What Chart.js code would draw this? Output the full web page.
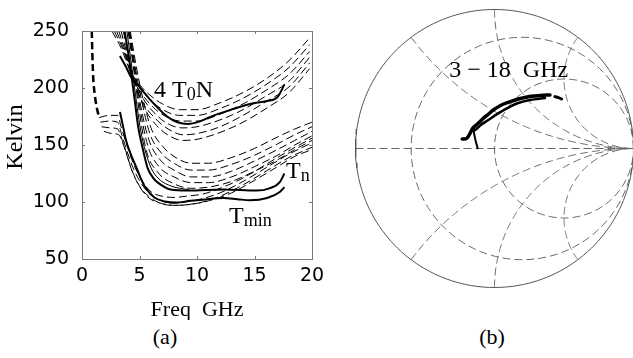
<!DOCTYPE html>
<html>
<head>
<meta charset="utf-8">
<script src="https://cdn.jsdelivr.net/npm/chart.js@4/dist/chart.umd.min.js"></script>
<style>
  html, body { margin: 0; padding: 0; background: #fff; overflow: hidden; }
  #wrap { position: relative; width: 633px; height: 358px; }
  #noiseCanvas { position: absolute; left: 0; top: 0; }
  #smithCanvas { position: absolute; left: 340px; top: 0; }
  .caption {
    position: absolute;
    font-family: "Liberation Serif", "Times New Roman", serif;
    font-size: 22px;
    line-height: 25px;
    color: #000;
    transform: translateX(-50%);
  }
</style>
</head>
<body>
<div id="wrap">
  <canvas id="noiseCanvas" width="330" height="320"></canvas>
  <canvas id="smithCanvas" width="300" height="300"></canvas>
  <div class="caption" style="left:165px; top:324px;">(a)</div>
  <div class="caption" style="left:492px; top:324px;">(b)</div>
</div>
<script>
//Datos de la figura (a): temperaturas de ruido [GHz, K]

const freqTicks = [0, 5, 10, 15, 20];
const kelvinTicks = [50, 100, 150, 200, 250];

const curve4T0N = [[3.3,228],[3.8,219],[4.3,209],[5.0,201],[5.9,190],[7.4,175],[8.3,170],[9.2,168.5],[10.2,170.5],[11.1,174.5],[12.9,180.7],[14.6,186],[16.1,188.6],[17,192],[17.6,203]];
const curveTn = [[3.7,250],[4.0,232],[4.3,211],[4.6,188],[4.9,165],[5.3,146],[5.7,130],[6.2,121],[6.6,117],[7.7,111],[9.2,110],[12.3,111],[15.2,110],[16.3,112],[17.2,117.5],[17.6,125]];
const curveTnThin = [[3.9,250],[4.2,228],[4.5,206],[4.8,183],[5.1,163],[5.5,145],[6.0,130],[6.6,121],[7.5,115],[8.5,112],[9.3,111]];
const curveTmin = [[3.3,179],[3.6,165],[3.8,155],[4.2,143],[4.7,131],[5.1,121],[5.5,113],[6.3,104],[7.2,100.5],[8.2,99.5],[9.4,101],[10.5,102],[12.3,103.5],[13.5,102.5],[14.6,101.5],[16.1,103.5],[17.2,108.8],[17.6,113]];

const curveLowFreq = [[0.85,250],[0.9,230],[0.97,210],[1.1,195],[1.3,182],[1.5,174]];

const upperDashed = [
  [[2.6,250],[3.4,235],[4.2,215],[5,203],[6,193],[7,186],[8.5,181],[10,181],[12,187],[14,196],[16,208],[18,224],[19.8,244]],
  [[2.8,250],[3.6,233],[4.3,212],[5.1,199],[6.1,188],[7.2,180],[8.5,176],[10,176],[12,182],[14,191],[16,203],[18,218],[19.8,238]],
  [[3.0,250],[3.7,232],[4.3,211],[5.2,195],[6.2,183],[7.3,175],[8.6,171],[10,171],[12,177],[14,186],[16,198],[18,212],[19.8,232]],
  [[3.2,250],[3.8,231],[4.4,210],[5.3,191],[6.3,178],[7.4,169],[8.7,165],[10,166],[12,172],[14,181],[16,193],[18,206],[19.8,227]],
  [[3.4,250],[3.9,230],[4.4,209],[5.3,187],[6.4,173],[7.5,164],[8.8,159],[10,160],[12,166],[14,176],[16,188],[18,201],[19.8,222]],
  [[3.6,250],[4.0,229],[4.5,208],[5.4,183],[6.5,167],[7.6,158],[8.8,154],[10,155],[12,161],[14,170],[16,182],[18,196],[19.8,217]]
];

const lowerDashed = [
  [[4.2,250],[4.7,220],[5.2,195],[6,165],[7,149],[8,140],[9.5,134],[11,134],[13,139],[15,147],[17,157],[18.5,164],[20,170]],
  [[4.15,250],[4.6,220],[5.1,193],[5.9,160],[6.9,143],[8,134],[9.5,128],[11,128],[13,133],[15,141],[17,151],[18.5,159],[20,166]],
  [[4.1,250],[4.55,220],[5.0,190],[5.8,155],[6.8,137],[8,128],[9.5,122],[11,122],[13,127],[15,136],[17,146],[18.5,154],[20,162]],
  [[4.05,250],[4.5,220],[4.95,188],[5.7,150],[6.7,131],[8,122],[9.5,117],[11,117],[13,122],[15,131],[17,141],[18.5,150],[20,158]],
  [[4.0,250],[4.45,220],[4.9,185],[5.6,145],[6.6,126],[8,116],[9.5,112],[11,113],[13,118],[15,127],[17,137],[18.5,146],[20,154]],
  [[1.5,174],[2.3,176],[3.1,176],[3.4,166],[3.9,150],[4.5,133],[5.2,119],[6,109],[7,105],[8,104],[9,105],[10.5,107],[12,112],[14,121],[16,133],[18,145],[20,156]],
  [[1.6,170],[2.4,171],[3.1,170],[3.4,161],[3.8,148],[4.4,131],[5.1,117],[5.9,107],[6.9,101],[8,99],[9,100],[10.5,103],[12,108],[14,118],[16,130],[18,142],[20,152]],
  [[1.7,166],[2.5,165],[3.1,164],[3.4,157],[3.8,145],[4.3,129],[5.0,114],[5.8,105],[6.8,99],[8,97],[9,97.5],[10.5,100],[12,105],[14,115],[16,127],[18,139],[20,148]],
  [[1.9,162],[2.6,160],[3.2,159],[3.5,153],[3.9,141],[4.4,126],[5.1,112],[5.9,103],[7,98.5],[8.2,97],[9.5,98],[11,101],[13,108],[15,119],[17,131],[18.5,140],[20,146]]
];

//Datos de la figura (b): coeficiente de reflexion [Re, Im]

const gammaMain = [[-0.232,0.068],[-0.200,0.073],[-0.176,0.109],[-0.153,0.150],[-0.117,0.181],[-0.081,0.217],[-0.045,0.246],[-0.009,0.277],[0.040,0.308],[0.099,0.332],[0.171,0.356],[0.243,0.373],[0.315,0.380],[0.376,0.385],[0.399,0.385]];
const gammaTail = [[0.435,0.373],[0.460,0.366],[0.483,0.356]];
const gammaSecond = [[-0.153,0.145],[-0.140,0.133],[-0.092,0.174],[-0.045,0.205],[0.027,0.253],[0.099,0.294],[0.171,0.327],[0.255,0.349],[0.363,0.363]];
const gammaBranch = [[-0.153,0.145],[-0.140,0.073],[-0.121,0.001]];

const smithResistances = [0.25, 1];
const smithReactances = [0.5, 1, 2, -0.5, -1, -2];

const SERIF = '"Liberation Serif", "Times New Roman", serif';
const SANS = '"DejaVu Sans", sans-serif';

function toPoints(pairs) {
  return pairs.map((p) => ({ x: p[0], y: p[1] }));
}

function drawWithSub(ctx, x, y, parts) {
  // parts: [texto, tamaño, desplazamiento vertical]
  let cx = x;
  parts.forEach(([text, size, dy]) => {
    ctx.font = `${size}px ${SERIF}`;
    ctx.fillText(text, cx, y + dy);
    cx += ctx.measureText(text).width;
  });
}

const noiseDecor = {
  id: "noiseDecor",
  afterDatasetsDraw(chart) {
    const { ctx, chartArea: a, scales } = chart;
    ctx.save();
    ctx.strokeStyle = "#7a7a7a";
    ctx.lineWidth = 1;
    ctx.setLineDash([]);
    ctx.strokeRect(a.left + 0.5, a.top + 0.5, a.right - a.left, a.bottom - a.top);
    ctx.beginPath();
    freqTicks.forEach((v) => {
      const px = Math.round(scales.x.getPixelForValue(v)) + 0.5;
      ctx.moveTo(px, a.bottom);
      ctx.lineTo(px, a.bottom - 3);
      ctx.moveTo(px, a.top);
      ctx.lineTo(px, a.top + 3);
    });
    kelvinTicks.forEach((v) => {
      const py = Math.round(scales.y.getPixelForValue(v)) + 0.5;
      ctx.moveTo(a.left, py);
      ctx.lineTo(a.left + 3, py);
      ctx.moveTo(a.right, py);
      ctx.lineTo(a.right - 3, py);
    });
    ctx.stroke();

    ctx.fillStyle = "#000";
    ctx.textBaseline = "alphabetic";
    ctx.textAlign = "left";
    const X = (v) => scales.x.getPixelForValue(v);
    const Y = (v) => scales.y.getPixelForValue(v);
    drawWithSub(ctx, X(6.26), Y(192), [["4 T", 24, 0], ["0", 18, 3], ["N", 24, 0]]);
    drawWithSub(ctx, X(17.74), Y(121), [["T", 24, 0], ["n", 18, 3]]);
    drawWithSub(ctx, X(12.78), Y(81.6), [["T", 24, 0], ["min", 18, 3]]);

    // titulo del eje y
    ctx.save();
    ctx.translate(a.left - 66, (a.top + a.bottom) / 2 - 8);
    ctx.rotate(-Math.PI / 2);
    ctx.font = `24px ${SERIF}`;
    ctx.textAlign = "center";
    ctx.textBaseline = "middle";
    ctx.fillText("Kelvin", 0, 0);
    ctx.restore();
    ctx.restore();
  },
};

function lineSet(pairs, width, dash, order) {
  return {
    data: toPoints(pairs),
    showLine: true,
    borderColor: "#000",
    borderWidth: width,
    borderDash: dash,
    pointRadius: 0,
    cubicInterpolationMode: "monotone",
    order: order,
  };
}

const noiseDatasets = [];
noiseDatasets.push(lineSet(curve4T0N, 2, [], 0));
noiseDatasets.push(lineSet(curveTn, 2, [], 0));
noiseDatasets.push(lineSet(curveTnThin, 1, [], 0));
noiseDatasets.push(lineSet(curveTmin, 2, [], 0));
noiseDatasets.push(lineSet(curveLowFreq, 2.5, [7, 4], 1));
upperDashed.forEach((c) => noiseDatasets.push(lineSet(c, 1, [8, 4], 2)));
lowerDashed.forEach((c) => noiseDatasets.push(lineSet(c, 1, [8, 4], 2)));

new Chart(document.getElementById("noiseCanvas"), {
  type: "scatter",
  data: { datasets: noiseDatasets },
  options: {
    responsive: false,
    animation: false,
    events: [],
    layout: { padding: { top: 31, right: 18, left: 0, bottom: 0 } },
    plugins: { legend: { display: false }, tooltip: { enabled: false } },
    scales: {
      x: {
        type: "linear",
        min: 0,
        max: 20,
        afterBuildTicks: (s) => { s.ticks = freqTicks.map((v) => ({ value: v })); },
        afterFit: (s) => { s.height = 61; },
        grid: { display: false },
        border: { display: false },
        ticks: { color: "#000", font: { family: SANS, size: 19 }, padding: -2, maxRotation: 0 },
        title: { display: true, text: "Freq  GHz", color: "#000", font: { family: SERIF, size: 22 }, padding: { top: 0, bottom: -3 } },
      },
      y: {
        type: "linear",
        min: 50,
        max: 250,
        afterBuildTicks: (s) => { s.ticks = kelvinTicks.map((v) => ({ value: v })); },
        afterFit: (s) => { s.width = 82; },
        grid: { display: false },
        border: { display: false },
        ticks: { color: "#000", font: { family: SANS, size: 19 }, padding: 5 },
      },
    },
  },
  plugins: [noiseDecor],
});

//Carta de Smith

function gammaOf(r, x) {
  const c = r + 1;
  const den = c * c + x * x;
  return { x: ((r - 1) * c + x * x) / den, y: (x * c - (r - 1) * x) / den };
}

function resistanceCircle(r) {
  const cx = r / (1 + r);
  const rad = 1 / (1 + r);
  const pts = [];
  for (let i = 0; i <= 180; i++) {
    const t = (i / 180) * 2 * Math.PI;
    pts.push({ x: cx + rad * Math.cos(t), y: rad * Math.sin(t) });
  }
  return pts;
}

function reactanceArc(xv) {
  const pts = [];
  for (let i = 0; i < 200; i++) {
    const r = Math.tan((i / 200) * Math.PI / 2);
    pts.push(gammaOf(r, xv));
  }
  pts.push({ x: 1, y: 0 });
  return pts;
}

function gridSet(points, dash, color) {
  return {
    data: points,
    showLine: true,
    borderColor: color,
    borderWidth: 1,
    borderDash: dash,
    pointRadius: 0,
    tension: 0,
    clip: false,
    order: 5,
  };
}

function curveSet(pairs, width) {
  return {
    data: toPoints(pairs),
    showLine: true,
    borderColor: "#000",
    borderWidth: width,
    pointRadius: 0,
    tension: 0.4,
    borderCapStyle: "round",
    clip: false,
    order: 0,
  };
}

const smithDatasets = [];
smithDatasets.push(curveSet(gammaMain, 3.5));
smithDatasets.push(curveSet(gammaSecond, 2.5));
smithDatasets.push(curveSet(gammaBranch, 2));
smithDatasets.push(curveSet(gammaTail, 3));
smithDatasets.push(gridSet(resistanceCircle(0), [], "#555"));
smithResistances.forEach((r) => smithDatasets.push(gridSet(resistanceCircle(r), [8, 4], "#666")));
smithReactances.forEach((xv) => smithDatasets.push(gridSet(reactanceArc(xv), [8, 4], "#666")));
smithDatasets.push(gridSet([{ x: -1, y: 0 }, { x: 1, y: 0 }], [8, 4], "#666"));

const smithDecor = {
  id: "smithDecor",
  afterDatasetsDraw(chart) {
    const { ctx, scales } = chart;
    ctx.save();
    ctx.fillStyle = "#000";
    ctx.font = `24px ${SERIF}`;
    ctx.textBaseline = "alphabetic";
    ctx.fillText("3 \u2212 18  GHz", scales.x.getPixelForValue(-0.325), scales.y.getPixelForValue(0.514));
    ctx.restore();
  },
};

new Chart(document.getElementById("smithCanvas"), {
  type: "scatter",
  data: { datasets: smithDatasets },
  options: {
    responsive: false,
    animation: false,
    events: [],
    layout: { padding: { left: 15.5, right: 6.5, top: 9.5, bottom: 12.5 } },
    plugins: { legend: { display: false }, tooltip: { enabled: false } },
    scales: {
      x: { type: "linear", min: -1, max: 1, display: false },
      y: { type: "linear", min: -1, max: 1, display: false },
    },
  },
  plugins: [smithDecor],
});
</script>
</body>
</html>
